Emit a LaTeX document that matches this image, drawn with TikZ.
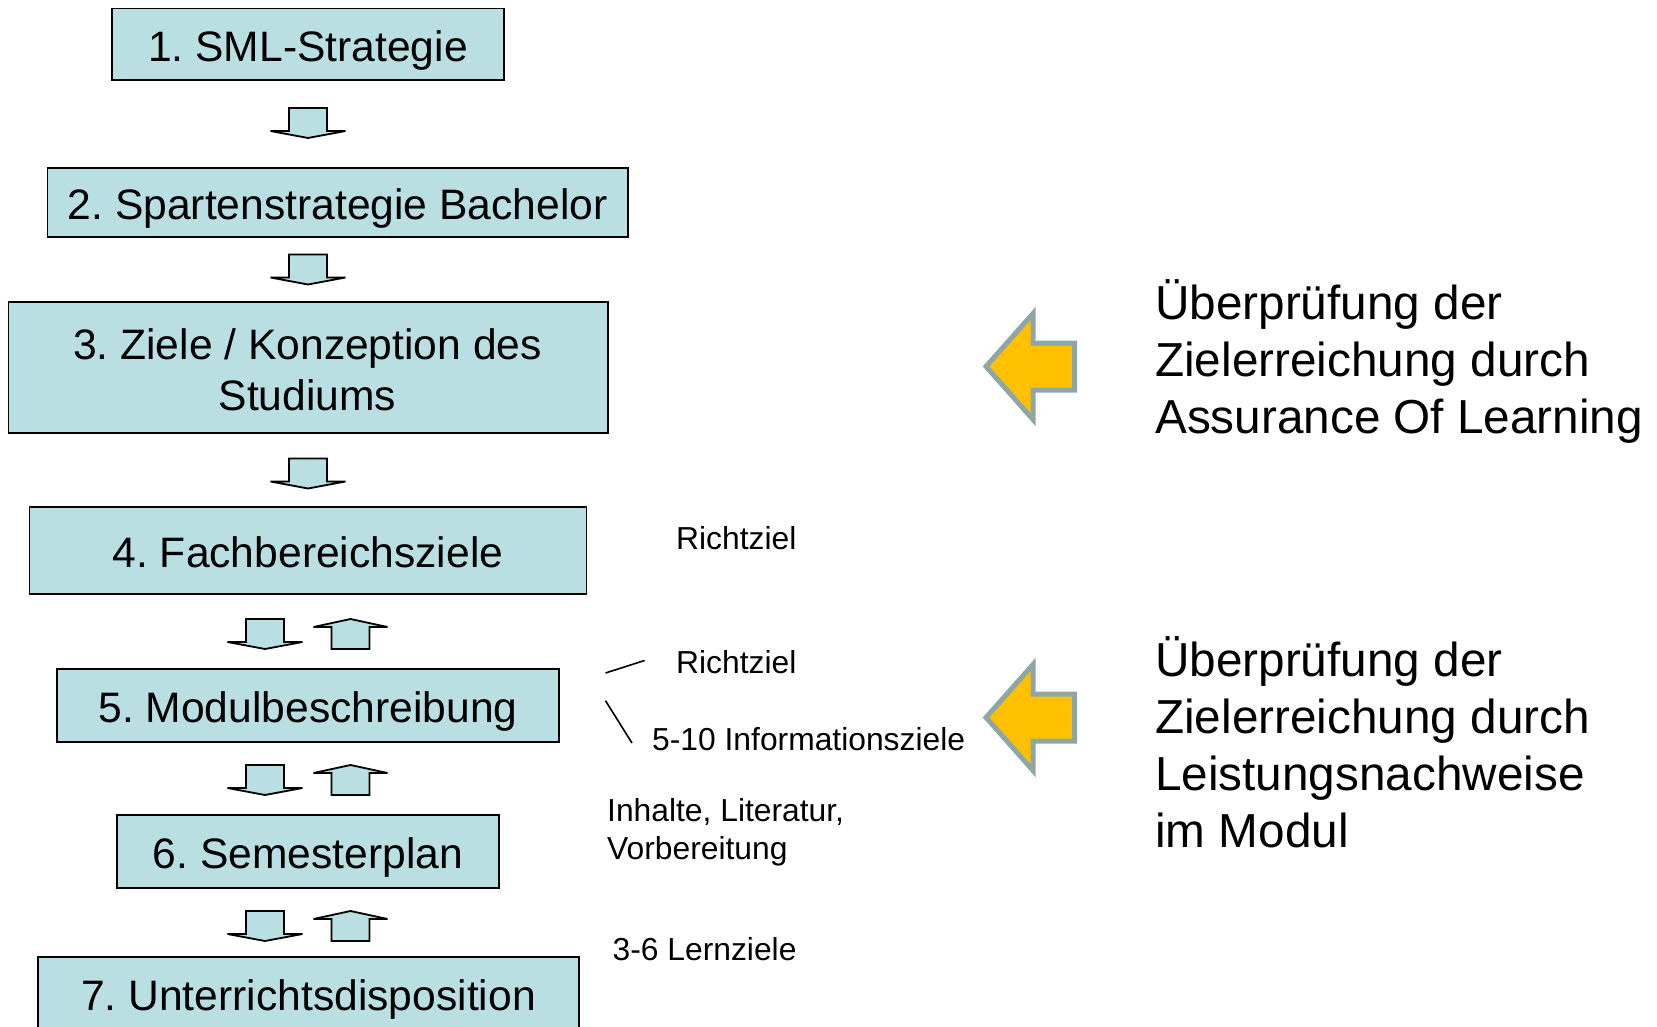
\documentclass[tikz,border=0pt]{standalone}
\usepackage{fontspec}
\setmainfont{Liberation Sans}
\frenchspacing
\definecolor{boxfill}{RGB}{185,223,227}
\definecolor{arrfill}{RGB}{255,192,0}
\definecolor{arrline}{RGB}{143,166,166}
\begin{document}
\begin{tikzpicture}[x=1pt,y=-1pt,
  box/.style={draw=black, line width=1.8pt, fill=boxfill, inner sep=0pt,
    font=\fontsize{42.6}{50.7}\selectfont, text height=42.3pt, text depth=7.8pt},
  boxtext/.style={font=\fontsize{42.6}{50.7}\selectfont, inner sep=0pt, anchor=base},
  blk/.style={draw=black, line width=1.8pt, fill=boxfill, line join=miter, miter limit=3},
  small/.style={font=\fontsize{31.8}{39}\selectfont, anchor=base west, inner sep=0pt},
  big/.style={font=\fontsize{47.7}{57}\selectfont, anchor=base west, inner sep=0pt},
  yarrow/.style={draw=arrline, line width=5pt, fill=arrfill, line join=miter, miter limit=10},
  tick/.style={draw=black, line width=1.6pt},
  downarr/.pic={\path[blk] (-19,-15) -- (19,-15) -- (19,8) -- (37.5,8) -- (0,15) -- (-37.5,8) -- (-19,8) -- cycle;},
  uparr/.pic={\path[blk] (-19,15) -- (19,15) -- (19,-7) -- (37,-7) -- (0,-15) -- (-37,-7) -- (-19,-7) -- cycle;},
  goalarr/.pic={\path[yarrow] (0,0) -- (47,-53) -- (47,-23.5) -- (88.5,-23.5) -- (88.5,23.5) -- (47,23.5) -- (47,53) -- cycle;},
  ]
\useasboundingbox (0,0) rectangle (1657,1027);

% boxes
\node[box, minimum width=392pt, minimum height=71.5pt] (b1) at (308,44.25) {1. SML-Strategie};
\node[box, minimum width=580.5pt, minimum height=69pt] (b2) at (337.75,202.5) {2. Spartenstrategie Bachelor};
\node[box, minimum width=599.5pt, minimum height=131pt] (b3) at (308.25,367.5) {};
\node[boxtext] (t3a) at (307.5,359) {3. Ziele / Konzeption des};
\node[boxtext] (t3b) at (307.5,410) {Studiums};
\node[box, minimum width=557pt, minimum height=87pt] (b4) at (308,550.5) {4. Fachbereichsziele};
\node[box, minimum width=502pt, minimum height=73pt] (b5) at (308,705.5) {5. Modulbeschreibung};
\node[box, minimum width=382pt, minimum height=73pt] (b6) at (308,851.5) {6. Semesterplan};
\node[box, minimum width=541pt, minimum height=73pt] (b7) at (308.5,993.5) {7. Unterrichtsdisposition};

% block arrows between boxes
\coordinate (a12) at (308,123);
\coordinate (a23) at (308,269.5);
\coordinate (a34) at (308,473.5);
\coordinate (a45) at (308,634);
\coordinate (a56) at (308,780);
\coordinate (a67) at (308,926);
\pic at (a12) {downarr};
\pic at (a23) {downarr};
\pic at (a34) {downarr};
\foreach \c in {a45,a56,a67}{
  \pic at ([xshift=-43pt]\c) {downarr};
  \pic at ([xshift=42.5pt]\c) {uparr};
}

% small labels
\node[small] (r1) at (676,549.5) {Richtziel};
\node[small] (r2) at (676,673) {Richtziel};
\node[small] (info) at (652,750) {5-10 Informationsziele};
\node[small] (inh1) at (607,821) {Inhalte, Literatur,};
\node[small] (inh2) at (607,859.5) {Vorbereitung};
\node[small] (lern) at (612.5,960) {3-6 Lernziele};

\coordinate (l1a) at (605.5,673);
\coordinate (l1b) at (644.6,660.5);
\coordinate (l2a) at (605.5,700.7);
\coordinate (l2b) at (632,743);
\draw[tick] (l1a) -- (l1b);
\draw[tick] (l2a) -- (l2b);

% yellow arrows
\coordinate (y1) at (986,366.5);
\coordinate (y2) at (986,717.5);
\pic at (y1) {goalarr};
\pic at (y2) {goalarr};

% right texts
\node[big] (u1) at (1155,319.5) {Überprüfung der};
\node[big] (u2) at (1155,376.5) {Zielerreichung durch};
\node[big] (u3) at (1155,433.5) {Assurance Of Learning};
\node[big] (v1) at (1155,676.5) {Überprüfung der};
\node[big] (v2) at (1155,733.5) {Zielerreichung durch};
\node[big] (v3) at (1155,790.5) {Leistungsnachweise};
\node[big] (v4) at (1155,847.5) {im Modul};
\end{tikzpicture}
\end{document}
